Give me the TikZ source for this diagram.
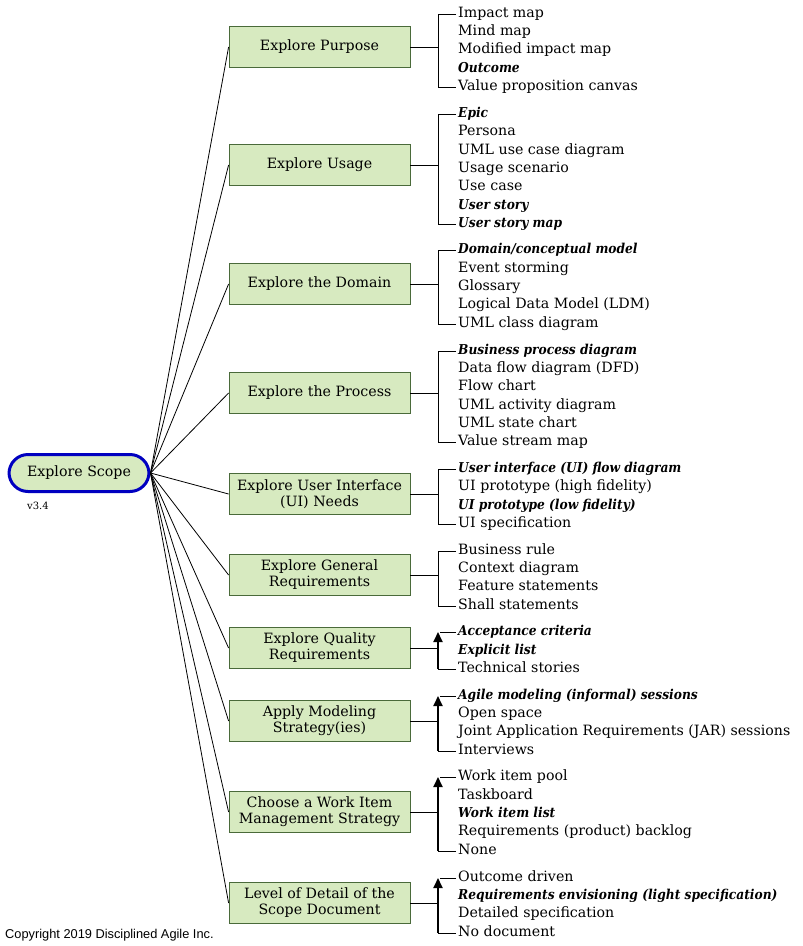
\documentclass[tikz,border=0pt]{standalone}
\usepackage{fontspec}
\setmainfont{DejaVu Serif}
\newfontfamily\condfont{DejaVu Serif Condensed}
\newfontfamily\copyfont{Liberation Sans}
\usetikzlibrary{arrows.meta}
\definecolor{boxfill}{HTML}{D7EAC0}
\definecolor{boxline}{HTML}{4A6A3A}
\definecolor{rootline}{HTML}{0000C0}
\begin{document}
\begin{tikzpicture}[x=1pt,y=-1pt,
  box/.style={draw=boxline,fill=boxfill,line width=0.8pt,minimum width=181pt,minimum height=41pt,align=center,inner sep=2pt,font=\fontsize{14.2}{16}\selectfont},
  item/.style={anchor=west,inner sep=0pt,text height=10pt,text depth=3.5pt,font=\fontsize{14.2}{16}\selectfont},
  bi/.style={item,font=\condfont\fontsize{13.6}{16}\selectfont\bfseries\itshape},
  conn/.style={draw,line width=0.8pt},
  thk/.style={draw,line width=2pt,-{Triangle[length=10pt,width=9pt]}}]
\useasboundingbox (0,0) rectangle (803,946);
\node[draw=rootline,fill=boxfill,line width=3pt,rounded corners=19pt,minimum width=140pt,minimum height=37pt,font=\fontsize{14.2}{16}\selectfont] (root) at (79,473) {Explore Scope};
\node[anchor=west,inner sep=0pt,font=\fontsize{10}{11}\selectfont] (ver) at (27,506) {v3.4};
\node[anchor=west,inner sep=0pt,font=\copyfont\fontsize{12.8}{14}\selectfont] (copy) at (5,935) {Copyright 2019 Disciplined Agile Inc.};

\node[box] (b1) at (319.5,47) {Explore Purpose};
\node[box] (b2) at (319.5,165) {Explore Usage};
\node[box] (b3) at (319.5,284) {Explore the Domain};
\node[box] (b4) at (319.5,393) {Explore the Process};
\node[box] (b5) at (319.5,494) {Explore User Interface\\(UI) Needs};
\node[box] (b6) at (319.5,575) {Explore General\\Requirements};
\node[box] (b7) at (319.5,648) {Explore Quality\\Requirements};
\node[box] (b8) at (319.5,721) {Apply Modeling\\Strategy(ies)};
\node[box] (b9) at (319.5,812) {Choose a Work Item\\Management Strategy};
\node[box] (b10) at (319.5,903) {Level of Detail of the\\Scope Document};
\foreach \b in {b1,b2,b3,b4,b5,b6,b7,b8,b9,b10} \draw[conn] (root.east) -- (\b.west);

% lists
\node[item] (p1) at (458,14) {Impact map};
\node[item] (p2) at (458,32) {Mind map};
\node[item] (p3) at (458,50) {Modified impact map};
\node[bi] (p4) at (458,69) {Outcome};
\node[item] (p5) at (458,87) {Value proposition canvas};

\node[bi] (u1) at (458,114) {Epic};
\node[item] (u2) at (458,132) {Persona};
\node[item] (u3) at (458,151) {UML use case diagram};
\node[item] (u4) at (458,169) {Usage scenario};
\node[item] (u5) at (458,187) {Use case};
\node[bi] (u6) at (458,206) {User story};
\node[bi] (u7) at (458,224) {User story map};

\node[bi] (d1) at (458,250) {Domain/conceptual model};
\node[item] (d2) at (458,269) {Event storming};
\node[item] (d3) at (458,287) {Glossary};
\node[item] (d4) at (458,305) {Logical Data Model (LDM)};
\node[item] (d5) at (458,324) {UML class diagram};

\node[bi] (r1) at (458,351) {Business process diagram};
\node[item] (r2) at (458,369) {Data flow diagram (DFD)};
\node[item] (r3) at (458,387) {Flow chart};
\node[item] (r4) at (458,406) {UML activity diagram};
\node[item] (r5) at (458,424) {UML state chart};
\node[item] (r6) at (458,442) {Value stream map};

\node[bi] (i1) at (458,469) {User interface (UI) flow diagram};
\node[item] (i2) at (458,487) {UI prototype (high fidelity)};
\node[bi] (i3) at (458,506) {UI prototype (low fidelity)};
\node[item] (i4) at (458,524) {UI specification};

\node[item] (g1) at (458,551) {Business rule};
\node[item] (g2) at (458,569) {Context diagram};
\node[item] (g3) at (458,587) {Feature statements};
\node[item] (g4) at (458,606) {Shall statements};

\node[bi] (q1) at (458,632) {Acceptance criteria};
\node[bi] (q2) at (458,651) {Explicit list};
\node[item] (q3) at (458,669) {Technical stories};

\node[bi] (m1) at (458,696) {Agile modeling (informal) sessions};
\node[item] (m2) at (458,714) {Open space};
\node[item] (m3) at (458,732) {Joint Application Requirements (JAR) sessions};
\node[item] (m4) at (458,751) {Interviews};

\node[item] (w1) at (458,777) {Work item pool};
\node[item] (w2) at (458,796) {Taskboard};
\node[bi] (w3) at (458,814) {Work item list};
\node[item] (w4) at (458,832) {Requirements (product) backlog};
\node[item] (w5) at (458,851) {None};

\node[item] (l1) at (458,878) {Outcome driven};
\node[bi] (l2) at (458,896) {Requirements envisioning (light specification)};
\node[item] (l3) at (458,914) {Detailed specification};
\node[item] (l4) at (458,933) {No document};

% plain brackets
\foreach \b/\t/\e in {b1/p1/p5,b2/u1/u7,b3/d1/d5,b4/r1/r6,b5/i1/i4,b6/g1/g4}{
  \coordinate (j) at (438,0 |- \b.east);
  \draw[conn] (\b.east) -- (j);
  \draw[conn] ([xshift=-2pt]\t.west) -| (438,0 |- \e.west) -- ([xshift=-2pt]\e.west);
}
% arrow brackets
\foreach \b/\t/\e in {b7/q1/q3,b8/m1/m4,b9/w1/w5,b10/l1/l4}{
  \coordinate (j) at (438,0 |- \b.east);
  \draw[conn] (\b.east) -- (j);
  \draw[conn] ([xshift=-2pt]\t.west) -- ([xshift=2pt]438,0 |- \t.west);
  \draw[conn] ([xshift=-2pt]\e.west) -- (438,0 |- \e.west);
  \draw[thk] (438,0 |- \e.west) -- (438,0 |- \t.west);
}
\end{tikzpicture}
\end{document}
